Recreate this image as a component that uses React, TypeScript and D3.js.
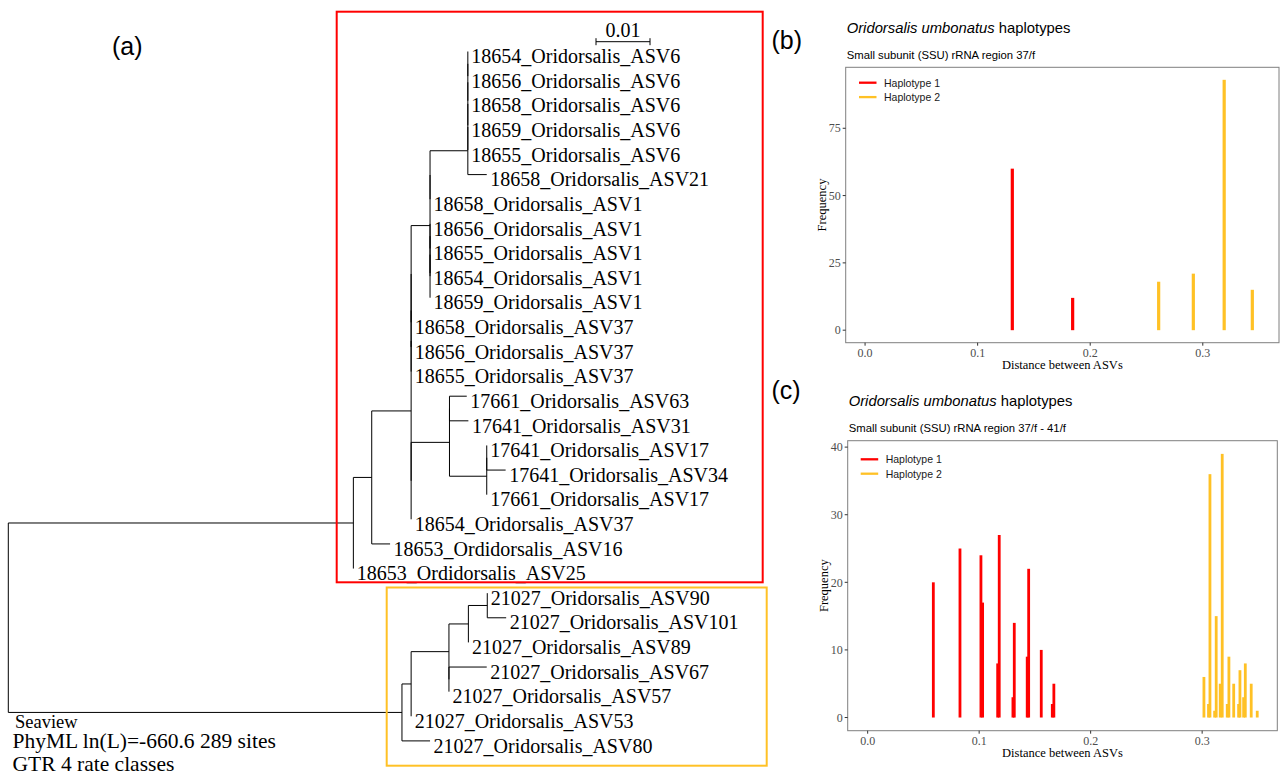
import React from 'react';
import * as d3 from 'd3';

// ---------------- Panel (a): phylogenetic tree ----------------
const LEAF_NAMES = [
  '18654_Oridorsalis_ASV6',
  '18656_Oridorsalis_ASV6',
  '18658_Oridorsalis_ASV6',
  '18659_Oridorsalis_ASV6',
  '18655_Oridorsalis_ASV6',
  '18658_Oridorsalis_ASV21',
  '18658_Oridorsalis_ASV1',
  '18656_Oridorsalis_ASV1',
  '18655_Oridorsalis_ASV1',
  '18654_Oridorsalis_ASV1',
  '18659_Oridorsalis_ASV1',
  '18658_Oridorsalis_ASV37',
  '18656_Oridorsalis_ASV37',
  '18655_Oridorsalis_ASV37',
  '17661_Oridorsalis_ASV63',
  '17641_Oridorsalis_ASV31',
  '17641_Oridorsalis_ASV17',
  '17641_Oridorsalis_ASV34',
  '17661_Oridorsalis_ASV17',
  '18654_Oridorsalis_ASV37',
  '18653_Ordidorsalis_ASV16',
  '18653_Ordidorsalis_ASV25',
  '21027_Oridorsalis_ASV90',
  '21027_Oridorsalis_ASV101',
  '21027_Oridorsalis_ASV89',
  '21027_Oridorsalis_ASV67',
  '21027_Oridorsalis_ASV57',
  '21027_Oridorsalis_ASV53',
  '21027_Oridorsalis_ASV80',
];

// Newick pieces (leaf labels are indices into LEAF_NAMES, branch lengths in subst./site)
const CLADE_ASV6 = '(((((0:0,1:0):0,2:0):0,3:0):0,4:0):0,5:0.0035):0.007';
const CLADE_ASV1 = `((${CLADE_ASV6},6:0):0,(((7:0,8:0):0,9:0):0,10:0):0):0.0035`;
const CLADE_ASV37 = `(((${CLADE_ASV1},11:0):0,12:0):0,13:0):0`;
const CLADE_17 = '(((14:0.0032,15:0.0035):0,((16:0,17:0.0035):0,18:0):0.0069):0.0071,19:0):0';
const CLADE_RED = `(((${CLADE_ASV37},${CLADE_17}):0.0073,20:0.0034):0.0034,21:0):0.0639`;
const CLADE_ORANGE =
  '(((((22:0,23:0.0035):0.0035,24:0):0.0036,(25:0.007,26:0):0):0.007,27:0):0.0017,28:0.0052):0.0729';
const TREE_NEWICK = `(${CLADE_RED},${CLADE_ORANGE});`;

const SCALE_BAR_VALUE = 0.01;
const TREE_NOTES = ['PhyML ln(L)=-660.6 289 sites', 'GTR 4 rate classes'];

// ---------------- Panels (b) and (c): histograms ----------------
const B_H1_X = [0.1308, 0.1844];
const B_H1_Y = [60, 12];
const B_H2_X = [0.2608, 0.2916, 0.319, 0.344];
const B_H2_Y = [18, 21, 93, 15];
const B_Y_TICKS = [0, 25, 50, 75];

const C_H1_X = [0.0589, 0.0828, 0.1016, 0.118, 0.1315, 0.1444, 0.1557, 0.167];
const C_H1_Y = [20, 25, 24, 27, 14, 22, 10, 5];
const C_H1_X2 = [0.1031, 0.1166, 0.1303, 0.1431, 0.1656];
const C_H1_Y2 = [17, 8, 3, 9, 2];
const C_H2_X = [0.3016, 0.307, 0.3126, 0.318, 0.324, 0.3283, 0.3339, 0.3387, 0.344, 0.3494];
const C_H2_Y = [6, 36, 15, 39, 9, 5, 7, 8, 5, 1];
const C_H2_X2 = [0.3057, 0.3112, 0.3162, 0.3225, 0.3327, 0.3372];
const C_H2_Y2 = [2, 1, 5, 2, 2, 3];
const C_Y_TICKS = [0, 10, 20, 30, 40];

const X_TICKS = [0, 0.1, 0.2, 0.3];
const LEGEND_LABELS = ['Haplotype 1', 'Haplotype 2'];

const RED = '#FF0000';
const GOLD = '#FFC125';
const SERIF = "'Liberation Serif', 'Times New Roman', serif";
const SANS = "'Liberation Sans', Arial, sans-serif";

type TNode = { name: string | null; length: number; children: TNode[] };

function parseNewick(s: string): TNode {
  let i = 0;
  function node(): TNode {
    const n: TNode = { name: null, length: 0, children: [] };
    if (s[i] === '(') {
      i++;
      n.children.push(node());
      while (s[i] === ',') {
        i++;
        n.children.push(node());
      }
      i++; // ')'
    }
    let name = '';
    while (i < s.length && !',:();'.includes(s[i])) name += s[i++];
    if (name) n.name = name;
    if (s[i] === ':') {
      i++;
      let num = '';
      while (i < s.length && !',();'.includes(s[i])) num += s[i++];
      n.length = +num;
    }
    return n;
  }
  return node();
}

function Tree() {
  const root = d3.hierarchy<TNode>(parseNewick(TREE_NEWICK), (d) => (d.children.length ? d.children : null));
  const treeX = d3.scaleLinear().domain([0, 0.01]).range([8.3, 62.3]);
  const leafY = d3.scaleLinear().domain([0, LEAF_NAMES.length - 1]).range([51.5, 740.9]);

  const cum = new Map<any, number>();
  const ypos = new Map<any, number>();
  root.eachBefore((n) => {
    cum.set(n, n.parent ? (cum.get(n.parent) as number) + n.data.length : 0);
  });
  root.leaves().forEach((l, i) => ypos.set(l, leafY(i)));
  root.eachAfter((n) => {
    if (n.children) {
      const f = ypos.get(n.children[0]) as number;
      const l = ypos.get(n.children[n.children.length - 1]) as number;
      ypos.set(n, (f + l) / 2);
    }
  });

  const lines: JSX.Element[] = [];
  let k = 0;
  root.each((n) => {
    const x = treeX(cum.get(n) as number);
    const y = ypos.get(n) as number;
    if (n.parent) {
      const px = treeX(cum.get(n.parent) as number);
      if (x - px > 0.01) lines.push(<line key={k++} x1={px} x2={x} y1={y} y2={y} />);
    }
    if (n.children) {
      const y1 = ypos.get(n.children[0]) as number;
      const y2 = ypos.get(n.children[n.children.length - 1]) as number;
      lines.push(<line key={k++} x1={x} x2={x} y1={y1} y2={y2} />);
    }
  });

  const labels = root.leaves().map((l, i) => (
    <text
      key={i}
      x={treeX(cum.get(l) as number) + 3.5}
      y={(ypos.get(l) as number) + 11.7}
      fontFamily={SERIF}
      fontSize={20}
      fill="#000"
    >
      {LEAF_NAMES[+(l.data.name as string)]}
    </text>
  ));

  const barLen = treeX(SCALE_BAR_VALUE) - treeX(0);
  const barX = 596;
  const barY = 41.7;

  return (
    <g>
      <text x={112} y={55} fontFamily={SANS} fontSize={25}>(a)</text>
      <g stroke="#000" strokeWidth={1}>{lines}</g>
      {labels}
      <g stroke="#000" strokeWidth={1}>
        <line x1={barX} x2={barX + barLen} y1={barY} y2={barY} />
        <line x1={barX} x2={barX} y1={barY - 3.5} y2={barY + 3.5} />
        <line x1={barX + barLen} x2={barX + barLen} y1={barY - 3.5} y2={barY + 3.5} />
      </g>
      <text x={barX + barLen / 2} y={37.3} textAnchor="middle" fontFamily={SERIF} fontSize={20}>
        {SCALE_BAR_VALUE.toFixed(2)}
      </text>
      <text x={15} y={727.5} fontFamily={SERIF} fontSize={18.5}>Seaview</text>
      <text x={12.5} y={748} fontFamily={SERIF} fontSize={21.5}>{TREE_NOTES[0]}</text>
      <text x={12.5} y={770.5} fontFamily={SERIF} fontSize={21.5}>{TREE_NOTES[1]}</text>
      <rect x={336.7} y={11.7} width={426} height={570.6} fill="none" stroke={RED} strokeWidth={2} />
      <rect x={386.7} y={587.5} width={380} height={178.2} fill="none" stroke={GOLD} strokeWidth={2} />
    </g>
  );
}

type Series = { x: number[]; y: number[]; color: string };

function Histo(props: {
  tag: string;
  tagY: number;
  titleY: number;
  subtitle: string;
  subY: number;
  left: number;
  right: number;
  top: number;
  bottom: number;
  xDomain: [number, number];
  yDomain: [number, number];
  yTicks: number[];
  series: Series[];
  barW: number;
  legX: number;
  legY: number;
  yTitleX: number;
}) {
  const { left, right, top, bottom } = props;
  const x = d3.scaleLinear().domain(props.xDomain).range([left, right]);
  const y = d3.scaleLinear().domain(props.yDomain).range([bottom, top]);
  const tickCol = '#333';
  return (
    <g>
      <text x={771.5} y={props.tagY} fontFamily={SANS} fontSize={25}>{props.tag}</text>
      <text x={left + 1} y={props.titleY} fontFamily={SANS} fontSize={14.8}>
        <tspan fontStyle="italic">Oridorsalis umbonatus</tspan> haplotypes
      </text>
      <text x={left + 1} y={props.subY} fontFamily={SANS} fontSize={11.3}>{props.subtitle}</text>
      {props.series.map((s, si) =>
        s.x.map((v, i) => (
          <rect
            key={`${si}-${i}`}
            x={x(v) - props.barW / 2}
            width={props.barW}
            y={y(s.y[i])}
            height={y(0) - y(s.y[i])}
            fill={s.color}
          />
        ))
      )}
      <rect x={left} y={top} width={right - left} height={bottom - top} fill="none" stroke="#7f7f7f" strokeWidth={1} />
      {props.yTicks.map((t) => (
        <g key={t}>
          <line x1={left - 3} x2={left} y1={y(t)} y2={y(t)} stroke={tickCol} />
          <text x={left - 5} y={y(t)} dy="0.35em" textAnchor="end" fontFamily={SERIF} fontSize={12} fill="#4D4D4D">
            {t}
          </text>
        </g>
      ))}
      {X_TICKS.map((t) => (
        <g key={t}>
          <line x1={x(t)} x2={x(t)} y1={bottom} y2={bottom + 3} stroke={tickCol} />
          <text x={x(t)} y={bottom + 14} textAnchor="middle" fontFamily={SERIF} fontSize={12} fill="#4D4D4D">
            {t.toFixed(1)}
          </text>
        </g>
      ))}
      <text x={(left + right) / 2} y={bottom + 26.5} textAnchor="middle" fontFamily={SERIF} fontSize={12.5}>
        Distance between ASVs
      </text>
      <text
        transform={`translate(${props.yTitleX},${(top + bottom) / 2}) rotate(-90)`}
        textAnchor="middle"
        dy="0.35em"
        fontFamily={SERIF}
        fontSize={12.5}
      >
        Frequency
      </text>
      {LEGEND_LABELS.map((lab, i) => (
        <g key={lab}>
          <line
            x1={props.legX}
            x2={props.legX + 17.5}
            y1={props.legY + i * 14.4}
            y2={props.legY + i * 14.4}
            stroke={i === 0 ? RED : GOLD}
            strokeWidth={2.3}
          />
          <text x={props.legX + 25} y={props.legY + i * 14.4 + 3.8} fontFamily={SANS} fontSize={10.5} fill="#1a1a1a">
            {lab}
          </text>
        </g>
      ))}
    </g>
  );
}

export default function App() {
  return (
    <svg
      width={1282}
      height={774}
      viewBox="0 0 1282 774"
      style={{ position: 'absolute', left: 0, top: 0, background: '#fff' }}
    >
      <rect x={0} y={0} width={1282} height={774} fill="#fff" />
      <Tree />
      <Histo
        tag="(b)"
        tagY={49}
        titleY={32.7}
        subtitle="Small subunit (SSU) rRNA region 37/f"
        subY={59}
        left={845.7}
        right={1279}
        top={67.3}
        bottom={342.7}
        xDomain={[-0.0172, 0.3677]}
        yDomain={[-4.65, 97.65]}
        yTicks={B_Y_TICKS}
        series={[
          { x: B_H1_X, y: B_H1_Y, color: RED },
          { x: B_H2_X, y: B_H2_Y, color: GOLD },
        ]}
        barW={3.2}
        legX={859}
        legY={82.7}
        yTitleX={821.7}
      />
      <Histo
        tag="(c)"
        tagY={399}
        titleY={406}
        subtitle="Small subunit (SSU) rRNA region 37/f - 41/f"
        subY={432.3}
        left={847.7}
        right={1277.3}
        top={440.7}
        bottom={730.7}
        xDomain={[-0.0179, 0.3674]}
        yDomain={[-1.95, 40.95]}
        yTicks={C_Y_TICKS}
        series={[
          { x: C_H1_X, y: C_H1_Y, color: RED },
          { x: C_H1_X2, y: C_H1_Y2, color: RED },
          { x: C_H2_X, y: C_H2_Y, color: GOLD },
          { x: C_H2_X2, y: C_H2_Y2, color: GOLD },
        ]}
        barW={2.8}
        legX={860.7}
        legY={459.3}
        yTitleX={823.3}
      />
    </svg>
  );
}
